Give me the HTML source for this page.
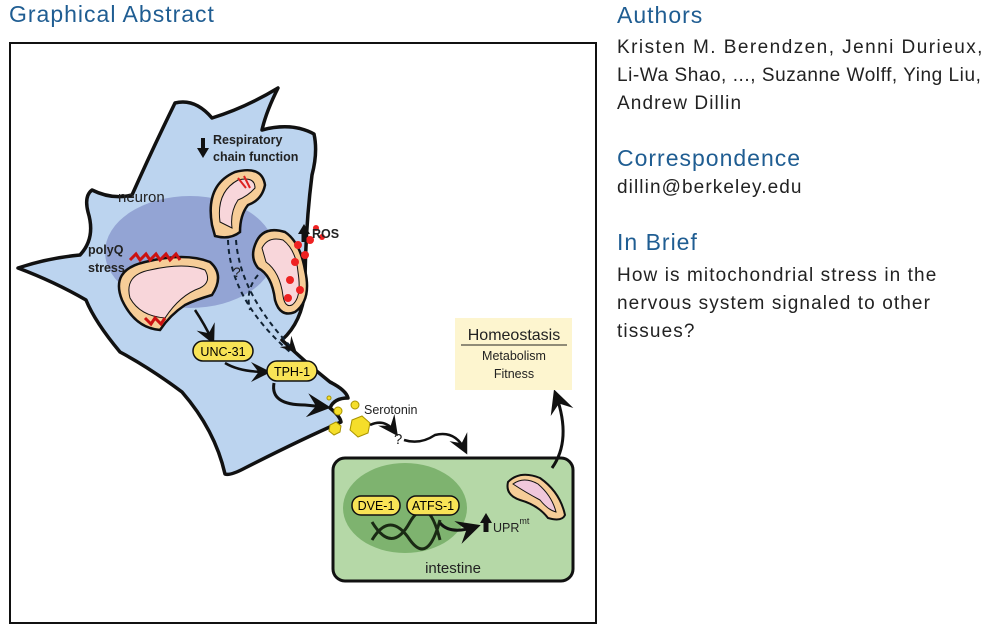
<!DOCTYPE html>
<html><head><meta charset="utf-8"><style>
body{margin:0;width:986px;height:632px;background:#fff;overflow:hidden;font-family:"Liberation Sans",Arial,sans-serif;position:relative}
.h{position:absolute;color:#1f5d92;font-size:23px;letter-spacing:1px}
.t{position:absolute;color:#222;font-size:19px;letter-spacing:1.1px;line-height:28px;white-space:nowrap}
</style></head><body>
<div class="h" style="left:9px;top:1px">Graphical Abstract</div>
<div class="h" style="left:617px;top:2px">Authors</div>
<div class="t" style="left:617px;top:34px"><span style="letter-spacing:1.45px">Kristen M. Berendzen, Jenni Durieux,</span><br><span style="letter-spacing:0.55px">Li-Wa Shao, ..., Suzanne Wolff, Ying Liu,</span><br>Andrew Dillin</div>
<div class="h" style="left:617px;top:145px">Correspondence</div>
<div class="t" style="left:617px;top:174px">dillin@berkeley.edu</div>
<div class="h" style="left:617px;top:229px">In Brief</div>
<div class="t" style="left:617px;top:262px">How is mitochondrial stress in the<br>nervous system signaled to other<br>tissues?</div>
<svg width="986" height="632" style="position:absolute;left:0;top:0" font-family="Liberation Sans,Arial,sans-serif">
<defs><marker id="a" markerWidth="8" markerHeight="8" refX="6" refY="4" orient="auto"><path d="M0,0 L8,4 L0,8 L3,4Z" fill="#111"/></marker></defs>
<rect x="10" y="43" width="586" height="580" fill="#fff" stroke="#111" stroke-width="2"/>
<path d="M175,103 Q195,98 212,118 Q245,108 278,88 Q266,112 262,130 Q292,122 314,134 Q318,152 312,175 Q305,230 305,290 Q302,322 282,340 Q305,362 330,382 Q346,390 348,398 Q334,398 330,408 Q340,416 341,422 Q300,440 245,468 Q230,476 225,474 Q215,430 182,392 Q150,368 120,352 Q95,322 86,300 Q55,282 18,268 Q48,258 80,255 Q96,238 88,212 Q84,196 92,190 Q112,200 132,195 Q152,150 175,103Z" fill="#bcd4ef" stroke="#111" stroke-width="3.5" stroke-linejoin="round"/>
<ellipse cx="190" cy="252" rx="85" ry="56" fill="#93a4d4"/>
<text x="118" y="202" font-size="15" fill="#222">neuron</text>
<text x="88" y="254" font-size="12.5" font-weight="bold" fill="#222">polyQ</text>
<text x="88" y="272" font-size="12.5" font-weight="bold" fill="#222">stress</text>
<path d="M203,138 v12" stroke="#111" stroke-width="4"/><path d="M197,148 L203,158 L209,148Z" fill="#111"/>
<text x="213" y="144" font-size="12.5" font-weight="bold" fill="#222">Respiratory</text>
<text x="213" y="161" font-size="12.5" font-weight="bold" fill="#222">chain function</text>
<path d="M212,225 Q205,185 235,172 Q262,165 265,185 Q262,200 248,205 Q240,215 240,232 Q230,240 215,236Z" fill="#f6cd98" stroke="#111" stroke-width="2.5"/>
<path d="M220,222 Q216,192 238,180 Q255,176 255,188 Q248,196 238,200 Q230,212 232,228Z" fill="#f8d6da" stroke="#111" stroke-width="1"/>
<path d="M238,178 l8,10 M244,176 l6,12" stroke="#d22" stroke-width="2"/>
<path d="M255,245 Q262,225 285,232 Q300,242 305,270 Q312,300 295,312 Q280,318 275,300 Q272,275 258,268 Q250,258 255,245Z" fill="#f6cd98" stroke="#111" stroke-width="2.5"/>
<path d="M262,248 Q268,236 283,240 Q296,250 298,272 Q302,298 292,305 Q285,308 283,296 Q280,272 266,262Z" fill="#f8d6da" stroke="#111" stroke-width="1"/>
<g fill="#e22"><circle cx="298" cy="245" r="4"/><circle cx="310" cy="240" r="4"/><circle cx="316" cy="228" r="3"/><circle cx="322" cy="237" r="3"/><circle cx="305" cy="255" r="4"/><circle cx="295" cy="262" r="4"/><circle cx="290" cy="280" r="4"/><circle cx="300" cy="290" r="4"/><circle cx="288" cy="298" r="4"/></g>
<path d="M304,242 v-10" stroke="#111" stroke-width="5"/><path d="M298,234 L304,224 L310,234Z" fill="#111"/>
<text x="312" y="238" font-size="12.5" font-weight="bold" fill="#222">ROS</text>
<path d="M122,300 Q110,270 145,262 Q185,252 210,262 Q225,275 212,295 Q195,300 185,305 Q170,315 160,330 Q135,328 122,300Z" fill="#f6cd98" stroke="#111" stroke-width="2.5"/>
<path d="M130,298 Q124,275 150,270 Q185,262 205,270 Q212,282 200,288 Q180,295 165,318 Q140,316 130,298Z" fill="#f8d6da" stroke="#111" stroke-width="1"/>
<path d="M130,260 l6,-6 l4,6 l6,-6 l4,6 l6,-6 l4,6 l6,-6 l4,6 l6,-6 l4,6" stroke="#c11" stroke-width="3" fill="none"/>
<path d="M145,318 l6,6 l4,-6 l6,6 l4,-6" stroke="#c11" stroke-width="3" fill="none"/>
<path d="M228,240 Q230,300 290,352" stroke="#123" stroke-width="2" stroke-dasharray="5,4" fill="none"/>
<path d="M236,240 Q240,295 294,350" stroke="#123" stroke-width="2" stroke-dasharray="5,4" fill="none" marker-end="url(#a)"/>
<path d="M258,275 Q245,290 250,310" stroke="#123" stroke-width="2" stroke-dasharray="5,4" fill="none"/>
<text x="233" y="277" font-size="14" fill="#222">?</text>
<path d="M195,310 Q205,325 212,340" stroke="#111" stroke-width="2.5" fill="none" marker-end="url(#a)"/>
<rect x="193" y="341" width="60" height="20" rx="10" fill="#f8e356" stroke="#111" stroke-width="1.5"/>
<text x="223" y="356" font-size="12.5" text-anchor="middle">UNC-31</text>
<path d="M225,363 Q240,372 266,372" stroke="#111" stroke-width="2.5" fill="none" marker-end="url(#a)"/>
<rect x="267" y="361" width="50" height="20" rx="10" fill="#f8e356" stroke="#111" stroke-width="1.5"/>
<text x="292" y="376" font-size="12.5" text-anchor="middle">TPH-1</text>
<path d="M274,383 Q270,405 305,405 L325,407" stroke="#111" stroke-width="3" fill="none" marker-end="url(#a)"/>
<g fill="#f5de2a" stroke="#a99400" stroke-width="1"><polygon points="352,420 362,416 370,423 368,433 358,437 350,430"/><polygon points="330,425 336,422 341,426 340,432 334,435 329,431"/><circle cx="338" cy="411" r="4"/><circle cx="355" cy="405" r="4"/><circle cx="329" cy="398" r="2"/></g>
<text x="364" y="414" font-size="12.5" fill="#222">Serotonin</text>
<path d="M370,425 Q385,418 395,432" stroke="#111" stroke-width="2.5" fill="none" marker-end="url(#a)"/>
<text x="394" y="444" font-size="15" fill="#222">?</text>
<path d="M404,440 Q420,445 435,435 Q455,430 465,450" stroke="#111" stroke-width="2.5" fill="none" marker-end="url(#a)"/>
<rect x="333" y="458" width="240" height="123" rx="12" fill="#b5d8a7" stroke="#111" stroke-width="3"/>
<ellipse cx="405" cy="508" rx="62" ry="45" fill="#7eb36f"/>
<path d="M372,540 Q390,510 410,540 Q428,565 440,520 M372,522 Q392,555 410,522 Q428,492 440,540" stroke="#1a2a14" stroke-width="3" fill="none"/>
<rect x="352" y="496" width="48" height="19" rx="9" fill="#f8e356" stroke="#111" stroke-width="1.5"/>
<text x="376" y="510" font-size="12.5" text-anchor="middle">DVE-1</text>
<rect x="407" y="496" width="52" height="19" rx="9" fill="#f8e356" stroke="#111" stroke-width="1.5"/>
<text x="433" y="510" font-size="12.5" text-anchor="middle">ATFS-1</text>
<path d="M440,523 Q450,535 475,527" stroke="#111" stroke-width="3" fill="none" marker-end="url(#a)"/>
<path d="M486,532 v-10" stroke="#111" stroke-width="5"/><path d="M480,523 L486,513 L492,523Z" fill="#111"/>
<text x="493" y="532" font-size="12.5" fill="#222">UPR<tspan dy="-8" font-size="9">mt</tspan></text>
<path d="M508,482 Q520,470 540,478 Q560,492 565,515 Q562,522 548,518 Q538,505 520,500 Q505,495 508,482Z" fill="#f6cd98" stroke="#111" stroke-width="2"/>
<path d="M513,484 Q524,476 538,484 Q552,496 556,512 Q548,510 540,500 Q525,492 513,484Z" fill="#f0c8dc" stroke="#111" stroke-width="1"/>
<text x="453" y="573" font-size="15" text-anchor="middle" fill="#222">intestine</text>
<path d="M552,468 Q572,440 556,395" stroke="#111" stroke-width="3" fill="none" marker-end="url(#a)"/>
<rect x="455" y="318" width="117" height="72" fill="#fdf5cf"/>
<text x="514" y="340" font-size="16" text-anchor="middle" fill="#222">Homeostasis</text>
<line x1="461" y1="345" x2="567" y2="345" stroke="#222"/>
<text x="514" y="360" font-size="12.5" text-anchor="middle" fill="#222">Metabolism</text>
<text x="514" y="378" font-size="12.5" text-anchor="middle" fill="#222">Fitness</text>
</svg>
</body></html>
